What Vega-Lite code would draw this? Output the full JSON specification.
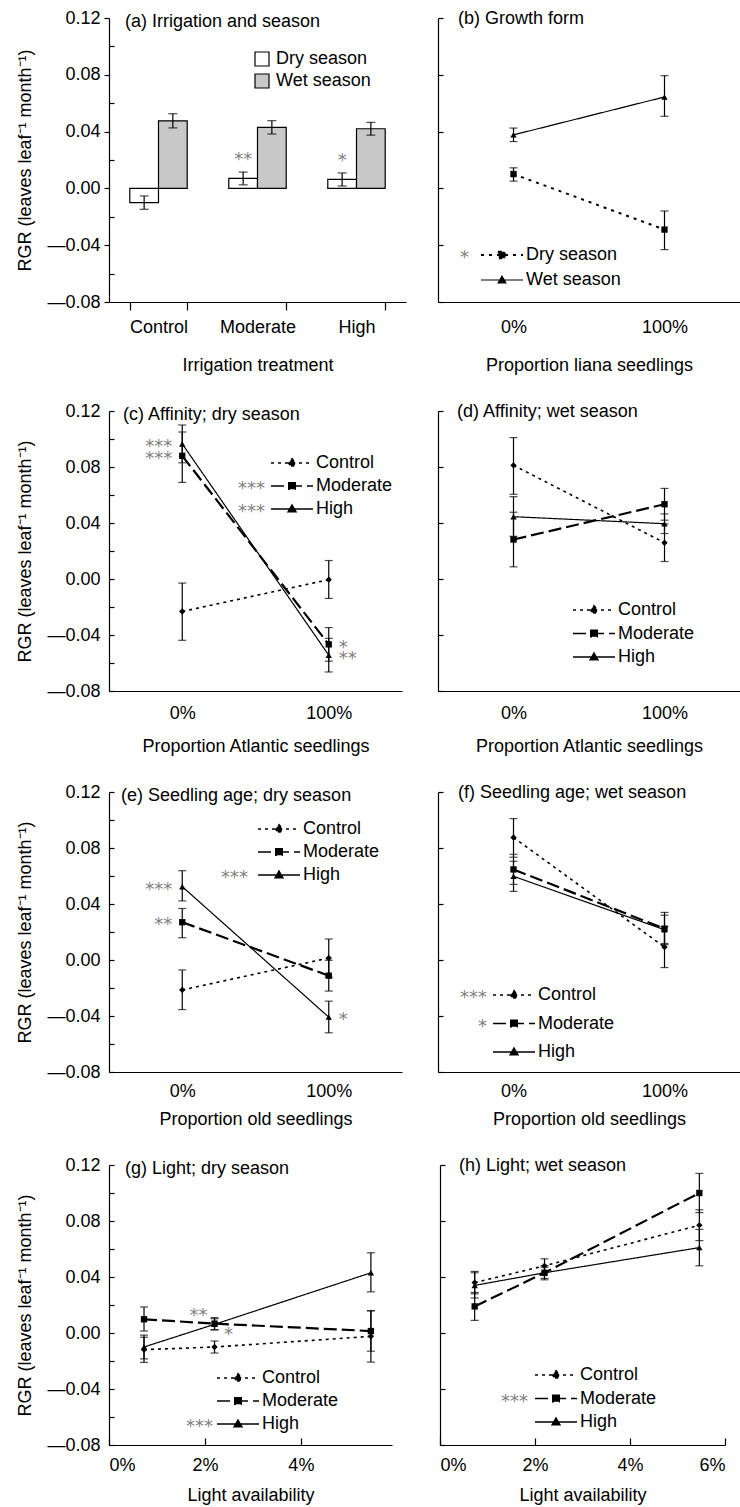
{
"$schema": "https://vega.github.io/schema/vega-lite/v6.json",
"padding": {"left": 16, "top": 9, "right": 0, "bottom": 4},
"config": {
 "font": "Liberation Sans",
 "view": {"stroke": null},
 "axis": {"labelFont": "Liberation Sans", "labelFontSize": 18, "labelColor": "black", "titleFont": "Liberation Sans", "titleFontSize": 18, "titleFontWeight": "normal", "titleColor": "black", "domainColor": "black", "domainWidth": 1.2, "tickColor": "black", "tickWidth": 1.2, "grid": false},
 "legend": {"labelFont": "Liberation Sans", "labelFontSize": 18, "labelColor": "black", "padding": 0, "orient": "none"},
 "title": {"font": "Liberation Sans", "fontSize": 18, "fontWeight": "normal", "color": "black", "anchor": "start", "frame": "group", "baseline": "middle"},
 "line": {"strokeCap": "butt"}
},
"datasets": {
 "a": [
  {"treatment": "Control", "season": "Dry season", "rgr": -0.0100, "lo": -0.0147, "hi": -0.0053},
  {"treatment": "Control", "season": "Wet season", "rgr": 0.0476, "lo": 0.0426, "hi": 0.0526},
  {"treatment": "Moderate", "season": "Dry season", "rgr": 0.0070, "lo": 0.0025, "hi": 0.0115, "sig": "**"},
  {"treatment": "Moderate", "season": "Wet season", "rgr": 0.0430, "lo": 0.0383, "hi": 0.0477},
  {"treatment": "High", "season": "Dry season", "rgr": 0.0063, "lo": 0.0017, "hi": 0.0109, "sig": "*"},
  {"treatment": "High", "season": "Wet season", "rgr": 0.0420, "lo": 0.0375, "hi": 0.0465}
 ],
 "b": [
  {"series": "Dry season", "x": "0%", "rgr": 0.0101, "lo": 0.0051, "hi": 0.0145},
  {"series": "Dry season", "x": "100%", "rgr": -0.0290, "lo": -0.0431, "hi": -0.0159},
  {"series": "Wet season", "x": "0%", "rgr": 0.0377, "lo": 0.0330, "hi": 0.0425},
  {"series": "Wet season", "x": "100%", "rgr": 0.0644, "lo": 0.0508, "hi": 0.0794}
 ],
 "c": [
  {"series": "Control", "x": "0%", "rgr": -0.0232, "lo": -0.0438, "hi": -0.0029},
  {"series": "Control", "x": "100%", "rgr": -0.0005, "lo": -0.0139, "hi": 0.0132},
  {"series": "Moderate", "x": "0%", "rgr": 0.0880, "lo": 0.0690, "hi": 0.1050, "sig": "***"},
  {"series": "Moderate", "x": "100%", "rgr": -0.0467, "lo": -0.0587, "hi": -0.0347, "sig": "*"},
  {"series": "High", "x": "0%", "rgr": 0.0965, "lo": 0.0830, "hi": 0.1100, "sig": "***"},
  {"series": "High", "x": "100%", "rgr": -0.0544, "lo": -0.0664, "hi": -0.0424, "sig": "**"}
 ],
 "d": [
  {"series": "Control", "x": "0%", "rgr": 0.0812, "lo": 0.0605, "hi": 0.1010},
  {"series": "Control", "x": "100%", "rgr": 0.0259, "lo": 0.0125, "hi": 0.0393},
  {"series": "Moderate", "x": "0%", "rgr": 0.0282, "lo": 0.0087, "hi": 0.0477},
  {"series": "Moderate", "x": "100%", "rgr": 0.0534, "lo": 0.0420, "hi": 0.0647},
  {"series": "High", "x": "0%", "rgr": 0.0445, "lo": 0.0305, "hi": 0.0588},
  {"series": "High", "x": "100%", "rgr": 0.0395, "lo": 0.0325, "hi": 0.0465}
 ],
 "e": [
  {"series": "Control", "x": "0%", "rgr": -0.0214, "lo": -0.0354, "hi": -0.0071},
  {"series": "Control", "x": "100%", "rgr": 0.0014, "lo": -0.0123, "hi": 0.0150},
  {"series": "Moderate", "x": "0%", "rgr": 0.0270, "lo": 0.0159, "hi": 0.0368, "sig": "**"},
  {"series": "Moderate", "x": "100%", "rgr": -0.0112, "lo": -0.0222, "hi": -0.0002},
  {"series": "High", "x": "0%", "rgr": 0.0524, "lo": 0.0422, "hi": 0.0638, "sig": "***"},
  {"series": "High", "x": "100%", "rgr": -0.0408, "lo": -0.0520, "hi": -0.0294, "sig": "*"}
 ],
 "f": [
  {"series": "Control", "x": "0%", "rgr": 0.0875, "lo": 0.0734, "hi": 0.1010},
  {"series": "Control", "x": "100%", "rgr": 0.0092, "lo": -0.0054, "hi": 0.0238},
  {"series": "Moderate", "x": "0%", "rgr": 0.0647, "lo": 0.0540, "hi": 0.0755},
  {"series": "Moderate", "x": "100%", "rgr": 0.0224, "lo": 0.0118, "hi": 0.0340},
  {"series": "High", "x": "0%", "rgr": 0.0598, "lo": 0.0490, "hi": 0.0705},
  {"series": "High", "x": "100%", "rgr": 0.0216, "lo": 0.0110, "hi": 0.0320}
 ],
 "g": [
  {"series": "Control", "light": 0.73, "rgr": -0.0119, "lo": -0.0210, "hi": -0.0030},
  {"series": "Control", "light": 2.2, "rgr": -0.0100, "lo": -0.0143, "hi": -0.0057},
  {"series": "Control", "light": 5.46, "rgr": -0.0024, "lo": -0.0208, "hi": 0.0160},
  {"series": "Moderate", "light": 0.73, "rgr": 0.0098, "lo": 0.0014, "hi": 0.0186},
  {"series": "Moderate", "light": 2.2, "rgr": 0.0067, "lo": 0.0024, "hi": 0.0110, "sig": "**"},
  {"series": "Moderate", "light": 5.46, "rgr": 0.0014, "lo": -0.0130, "hi": 0.0158},
  {"series": "High", "light": 0.73, "rgr": -0.0100, "lo": -0.0185, "hi": -0.0015},
  {"series": "High", "light": 2.2, "rgr": 0.0062, "lo": 0.0022, "hi": 0.0102, "sig": "*"},
  {"series": "High", "light": 5.46, "rgr": 0.0430, "lo": 0.0294, "hi": 0.0573}
 ],
 "h": [
  {"series": "Control", "light": 0.73, "rgr": 0.0360, "lo": 0.0280, "hi": 0.0440},
  {"series": "Control", "light": 2.2, "rgr": 0.0480, "lo": 0.0430, "hi": 0.0530},
  {"series": "Control", "light": 5.46, "rgr": 0.0770, "lo": 0.0660, "hi": 0.0880},
  {"series": "Moderate", "light": 0.73, "rgr": 0.0190, "lo": 0.0090, "hi": 0.0290},
  {"series": "Moderate", "light": 2.2, "rgr": 0.0430, "lo": 0.0380, "hi": 0.0480},
  {"series": "Moderate", "light": 5.46, "rgr": 0.1000, "lo": 0.0860, "hi": 0.1140},
  {"series": "High", "light": 0.73, "rgr": 0.0340, "lo": 0.0250, "hi": 0.0430},
  {"series": "High", "light": 2.2, "rgr": 0.0430, "lo": 0.0390, "hi": 0.0470},
  {"series": "High", "light": 5.46, "rgr": 0.0610, "lo": 0.0480, "hi": 0.0740}
 ]
},
"spacing": 28,
"resolve": {"scale": {"strokeDash": "independent", "strokeWidth": "independent", "shape": "independent", "opacity": "independent", "fill": "independent"}},
"vconcat": [
 {"spacing": 32, "bounds": "flush",
  "resolve": {"scale": {"strokeDash": "independent", "strokeWidth": "independent", "shape": "independent", "opacity": "independent", "fill": "independent"}},
  "hconcat": [
  {
   "width": 297, "height": 284, "data": {"name": "a"},
   "title": {"text": "(a) Irrigation and season", "dx": 16, "offset": -22},
   "resolve": {"axis": {"y": "independent"}},
   "layer": [
    {"mark": {"type": "bar", "stroke": "black", "strokeWidth": 1.2},
     "encoding": {
      "x": {"field": "treatment", "type": "nominal", "sort": ["Control", "Moderate", "High"], "scale": {"paddingInner": 0.42, "paddingOuter": 0.21}, "axis": {"title": "Irrigation treatment", "labelAngle": 0, "tickBand": "extent", "tickSize": 8, "labelPadding": 8, "titlePadding": 20}},
      "xOffset": {"field": "season", "type": "nominal", "scale": {"paddingInner": 0}},
      "y": {"field": "rgr", "type": "quantitative", "scale": {"domain": [-0.08, 0.12], "nice": false, "zero": false}, "axis": {"orient": "left", "values": [-0.08, -0.04, 0, 0.04, 0.08, 0.12], "labelExpr": "datum.value < -0.0001 ? '—' + format(-datum.value, '.2f') : format(datum.value, '.2f')", "tickSize": 5, "labelPadding": 4, "title": "RGR (leaves leaf⁻¹ month⁻¹)", "titlePadding": 12}},
      "fill": {"field": "season", "type": "nominal", "scale": {"range": ["white", "#c8c8c8"]}, "legend": {"title": null, "orient": "none", "legendX": 144, "legendY": 32, "symbolType": "square", "symbolSize": 196, "symbolStrokeColor": "black", "symbolStrokeWidth": 1.2, "labelOffset": 5, "rowPadding": 2}}
     }},
    {"mark": {"type": "rule", "color": "black", "strokeWidth": 1.2},
     "encoding": {
      "x": {"field": "treatment", "type": "nominal", "sort": ["Control", "Moderate", "High"]},
      "xOffset": {"field": "season", "type": "nominal"},
      "y": {"field": "lo", "type": "quantitative", "axis": {"orient": "right", "offset": -297, "values": [-0.06, -0.02, 0.02, 0.06, 0.1], "tickSize": 5, "labels": false, "domain": false, "title": null}},
      "y2": {"field": "hi"}
     }},
    {"mark": {"type": "tick", "orient": "horizontal", "color": "black", "size": 9, "thickness": 1.2},
     "encoding": {
      "x": {"field": "treatment", "type": "nominal", "sort": ["Control", "Moderate", "High"]},
      "xOffset": {"field": "season", "type": "nominal"},
      "y": {"field": "lo", "type": "quantitative", "axis": null}
     }},
    {"mark": {"type": "tick", "orient": "horizontal", "color": "black", "size": 9, "thickness": 1.2},
     "encoding": {
      "x": {"field": "treatment", "type": "nominal", "sort": ["Control", "Moderate", "High"]},
      "xOffset": {"field": "season", "type": "nominal"},
      "y": {"field": "hi", "type": "quantitative", "axis": null}
     }},
    {"transform": [{"filter": "datum.sig"}],
     "mark": {"type": "text", "baseline": "middle", "dy": -12, "font": "DejaVu Sans", "fontSize": 18, "color": "#808080"},
     "encoding": {
      "x": {"field": "treatment", "type": "nominal", "sort": ["Control", "Moderate", "High"]},
      "xOffset": {"field": "season", "type": "nominal"},
      "y": {"field": "hi", "type": "quantitative", "axis": null},
      "text": {"field": "sig"}
     }}
   ]
  },
  {
   "width": 302, "height": 284, "data": {"name": "b"},
   "title": {"text": "(b) Growth form", "dx": 20, "offset": -11},
   "layer": [
    {"mark": {"type": "line", "color": "black"},
     "encoding": {
      "x": {"field": "x", "type": "nominal", "scale": {"type": "point", "padding": 0.5}, "axis": {"title": "Proportion liana seedlings", "labelAngle": 0, "ticks": false, "tickSize": 0, "labelPadding": 16, "titlePadding": 20}},
      "y": {"field": "rgr", "type": "quantitative", "scale": {"domain": [-0.08, 0.12], "nice": false, "zero": false}, "axis": {"orient": "right", "offset": -302, "values": [-0.08, -0.06, -0.04, -0.02, 0, 0.02, 0.04, 0.06, 0.08, 0.1, 0.12], "tickSize": 5, "labels": false, "domain": true, "title": null}},
      "strokeDash": {"field": "series", "type": "nominal", "scale": {"range": [[3, 5], [1, 0]]}, "legend": {"title": null, "orient": "none", "legendX": 53, "legendY": 226, "symbolSize": 400, "symbolStrokeWidth": 1.6, "labelOffset": 13, "rowPadding": 5, "symbolType": {"expr": "datum.value === 'Dry season' ? 'M-2.1,0H2.1M-0.32,-0.32H0.32V0.32H-0.32Z' : 'M-2.1,0H2.1M0,-0.38L0.38,0.28L-0.38,0.28Z'"}, "encoding": {"symbols": {"fill": {"value": "black"}, "stroke": {"value": "black"}}}}},
      "strokeWidth": {"field": "series", "type": "nominal", "scale": {"type": "ordinal", "range": [2, 1.2]}, "legend": null}
     }},
    {"mark": {"type": "rule", "color": "black", "strokeWidth": 1.2},
     "encoding": {
      "x": {"field": "x", "type": "nominal"},
      "y": {"field": "lo", "type": "quantitative"},
      "y2": {"field": "hi"},
      "opacity": {"field": "series", "type": "nominal", "scale": {"domain": ["Dry season", "Wet season"], "range": [1, 1]}, "legend": {"title": null, "orient": "none", "legendX": 9, "legendY": 229, "symbolSize": 400, "symbolType": "M0,0", "symbolOpacity": 0, "labelOffset": 0, "labelAlign": "right", "rowPadding": 5, "labelFont": "DejaVu Sans", "labelColor": "#808080", "labelExpr": "datum.label == 'Dry season' ? '*' : ' '"}}
     }},
    {"mark": {"type": "tick", "orient": "horizontal", "color": "black", "size": 8, "thickness": 1.2},
     "encoding": {"x": {"field": "x", "type": "nominal"}, "y": {"field": "lo", "type": "quantitative"}}},
    {"mark": {"type": "tick", "orient": "horizontal", "color": "black", "size": 8, "thickness": 1.2},
     "encoding": {"x": {"field": "x", "type": "nominal"}, "y": {"field": "hi", "type": "quantitative"}}},
    {"mark": {"type": "point", "filled": true, "color": "black", "opacity": 1, "size": 40},
     "encoding": {"x": {"field": "x", "type": "nominal"}, "y": {"field": "rgr", "type": "quantitative"},
      "shape": {"field": "series", "type": "nominal", "scale": {"range": ["square", "triangle-up"]}, "legend": null}}}
   ]
  }
 ]},
 {"spacing": 36, "bounds": "flush",
  "resolve": {"scale": {"strokeDash": "independent", "strokeWidth": "independent", "shape": "independent", "opacity": "independent", "fill": "independent"}},
  "hconcat": [
   {
    "width": 293, "height": 280, "data": {"name": "c"},
    "title": {"text": "(c) Affinity; dry season", "dx": 14, "offset": -22},
    "resolve": {"axis": {"y": "independent"}},
    "layer": [
     {"mark": {"type": "line", "color": "black"},
      "encoding": {
       "x": {"field": "x", "type": "nominal", "scale": {"type": "point", "padding": 0.5}, "axis": {"title": "Proportion Atlantic seedlings", "labelAngle": 0, "ticks": false, "tickSize": 0, "labelPadding": 13, "titlePadding": 15}},
       "y": {"field": "rgr", "type": "quantitative", "scale": {"domain": [-0.08, 0.12], "nice": false, "zero": false}, "axis": {"orient": "left", "values": [-0.08, -0.04, 0, 0.04, 0.08, 0.12], "labelExpr": "datum.value < -0.0001 ? '—' + format(-datum.value, '.2f') : format(datum.value, '.2f')", "ticks": false, "tickSize": 0, "labelPadding": 9, "title": "RGR (leaves leaf⁻¹ month⁻¹)", "titlePadding": 12}},
       "strokeDash": {"field": "series", "type": "nominal", "sort": ["Control", "Moderate", "High"], "scale": {"range": [[3, 4], [13, 5], [1, 0]]}, "legend": {"title": null, "orient": "none", "legendX": 172, "legendY": 41, "symbolSize": 400, "symbolStrokeWidth": 1.6, "labelOffset": 13, "rowPadding": 3, "symbolType": {"expr": "datum.value === 'Control' ? 'M-2.1,0H2.1M0,-0.42L0.36,0L0,0.42L-0.36,0Z' : datum.value === 'Moderate' ? 'M-2.1,0H2.1M-0.32,-0.32H0.32V0.32H-0.32Z' : 'M-2.1,0H2.1M0,-0.38L0.38,0.28L-0.38,0.28Z'"}, "encoding": {"symbols": {"fill": {"value": "black"}, "stroke": {"value": "black"}}}}},
       "strokeWidth": {"field": "series", "type": "nominal", "sort": ["Control", "Moderate", "High"], "scale": {"type": "ordinal", "range": [1.6, 2.2, 1.2]}, "legend": null}
      }},
     {"mark": {"type": "rule", "color": "black", "strokeWidth": 1.2},
      "encoding": {
       "x": {"field": "x", "type": "nominal"},
       "y": {"field": "lo", "type": "quantitative", "axis": {"orient": "right", "offset": -293, "values": [-0.08, -0.06, -0.04, -0.02, 0, 0.02, 0.04, 0.06, 0.08, 0.1, 0.12], "tickSize": 5, "labels": false, "domain": false, "title": null}},
       "y2": {"field": "hi"},
       "opacity": {"field": "series", "type": "nominal", "scale": {"domain": ["Control", "Moderate", "High"], "range": [1, 1, 1]}, "legend": {"title": null, "orient": "none", "legendX": 134, "legendY": 44, "symbolSize": 400, "symbolType": "M0,0", "symbolOpacity": 0, "labelOffset": 0, "labelAlign": "right", "rowPadding": 3, "labelFont": "DejaVu Sans", "labelColor": "#808080", "labelExpr": "datum.label == 'Control' ? ' ' : '***'"}}
      }},
     {"mark": {"type": "tick", "orient": "horizontal", "color": "black", "size": 8, "thickness": 1.2},
      "encoding": {"x": {"field": "x", "type": "nominal"}, "y": {"field": "lo", "type": "quantitative", "axis": null}}},
     {"mark": {"type": "tick", "orient": "horizontal", "color": "black", "size": 8, "thickness": 1.2},
      "encoding": {"x": {"field": "x", "type": "nominal"}, "y": {"field": "hi", "type": "quantitative", "axis": null}}},
     {"mark": {"type": "point", "filled": true, "color": "black", "opacity": 1, "size": 40},
      "encoding": {"x": {"field": "x", "type": "nominal"}, "y": {"field": "rgr", "type": "quantitative", "axis": null},
       "shape": {"field": "series", "type": "nominal", "sort": ["Control", "Moderate", "High"], "scale": {"range": ["diamond", "square", "triangle-up"]}, "legend": null}}},
     {"transform": [{"filter": "datum.sig && datum.x == '0%'"}],
      "mark": {"type": "text", "align": "right", "dx": -10, "dy": 3, "baseline": "middle", "font": "DejaVu Sans", "fontSize": 18, "color": "#808080"},
      "encoding": {"x": {"field": "x", "type": "nominal"}, "y": {"field": "rgr", "type": "quantitative", "axis": null}, "text": {"field": "sig"}}},
     {"transform": [{"filter": "datum.sig && datum.x == '100%'"}],
      "mark": {"type": "text", "align": "left", "dx": 10, "dy": 4, "baseline": "middle", "font": "DejaVu Sans", "fontSize": 18, "color": "#808080"},
      "encoding": {"x": {"field": "x", "type": "nominal"}, "y": {"field": "rgr", "type": "quantitative", "axis": null}, "text": {"field": "sig"}}}
    ]
   },
   {
    "width": 302, "height": 280, "data": {"name": "d"},
    "title": {"text": "(d) Affinity; wet season", "dx": 19, "offset": -11},
    "layer": [
     {"mark": {"type": "line", "color": "black"},
      "encoding": {
       "x": {"field": "x", "type": "nominal", "scale": {"type": "point", "padding": 0.5}, "axis": {"title": "Proportion Atlantic seedlings", "labelAngle": 0, "ticks": false, "tickSize": 0, "labelPadding": 13, "titlePadding": 15}},
       "y": {"field": "rgr", "type": "quantitative", "scale": {"domain": [-0.08, 0.12], "nice": false, "zero": false}, "axis": {"orient": "right", "offset": -302, "values": [-0.08, -0.06, -0.04, -0.02, 0, 0.02, 0.04, 0.06, 0.08, 0.1, 0.12], "tickSize": 5, "labels": false, "domain": true, "title": null}},
       "strokeDash": {"field": "series", "type": "nominal", "sort": ["Control", "Moderate", "High"], "scale": {"range": [[3, 4], [13, 5], [1, 0]]}, "legend": {"title": null, "orient": "none", "legendX": 145, "legendY": 188, "symbolSize": 400, "symbolStrokeWidth": 1.6, "labelOffset": 13, "rowPadding": 3.5, "symbolType": {"expr": "datum.value === 'Control' ? 'M-2.1,0H2.1M0,-0.42L0.36,0L0,0.42L-0.36,0Z' : datum.value === 'Moderate' ? 'M-2.1,0H2.1M-0.32,-0.32H0.32V0.32H-0.32Z' : 'M-2.1,0H2.1M0,-0.38L0.38,0.28L-0.38,0.28Z'"}, "encoding": {"symbols": {"fill": {"value": "black"}, "stroke": {"value": "black"}}}}},
       "strokeWidth": {"field": "series", "type": "nominal", "sort": ["Control", "Moderate", "High"], "scale": {"type": "ordinal", "range": [1.6, 2.2, 1.2]}, "legend": null}
      }},
     {"mark": {"type": "rule", "color": "black", "strokeWidth": 1.2},
      "encoding": {"x": {"field": "x", "type": "nominal"}, "y": {"field": "lo", "type": "quantitative"}, "y2": {"field": "hi"}}},
     {"mark": {"type": "tick", "orient": "horizontal", "color": "black", "size": 8, "thickness": 1.2},
      "encoding": {"x": {"field": "x", "type": "nominal"}, "y": {"field": "lo", "type": "quantitative"}}},
     {"mark": {"type": "tick", "orient": "horizontal", "color": "black", "size": 8, "thickness": 1.2},
      "encoding": {"x": {"field": "x", "type": "nominal"}, "y": {"field": "hi", "type": "quantitative"}}},
     {"mark": {"type": "point", "filled": true, "color": "black", "opacity": 1, "size": 40},
      "encoding": {"x": {"field": "x", "type": "nominal"}, "y": {"field": "rgr", "type": "quantitative"},
       "shape": {"field": "series", "type": "nominal", "sort": ["Control", "Moderate", "High"], "scale": {"range": ["diamond", "square", "triangle-up"]}, "legend": null}}}
    ]
   }
  ]},
  {"spacing": 36, "bounds": "flush",
   "resolve": {"scale": {"strokeDash": "independent", "strokeWidth": "independent", "shape": "independent", "opacity": "independent", "fill": "independent"}},
   "hconcat": [
   {
    "width": 293, "height": 280, "data": {"name": "e"},
    "title": {"text": "(e) Seedling age; dry season", "dx": 12, "offset": -22},
    "resolve": {"axis": {"y": "independent"}},
    "layer": [
     {"mark": {"type": "line", "color": "black"},
      "encoding": {
       "x": {"field": "x", "type": "nominal", "scale": {"type": "point", "padding": 0.5}, "axis": {"title": "Proportion old seedlings", "labelAngle": 0, "ticks": false, "tickSize": 0, "labelPadding": 10, "titlePadding": 10}},
       "y": {"field": "rgr", "type": "quantitative", "scale": {"domain": [-0.08, 0.12], "nice": false, "zero": false}, "axis": {"orient": "left", "values": [-0.08, -0.04, 0, 0.04, 0.08, 0.12], "labelExpr": "datum.value < -0.0001 ? '—' + format(-datum.value, '.2f') : format(datum.value, '.2f')", "ticks": false, "tickSize": 0, "labelPadding": 9, "title": "RGR (leaves leaf⁻¹ month⁻¹)", "titlePadding": 12}},
       "strokeDash": {"field": "series", "type": "nominal", "sort": ["Control", "Moderate", "High"], "scale": {"range": [[3, 4], [13, 5], [1, 0]]}, "legend": {"title": null, "orient": "none", "legendX": 159, "legendY": 26, "symbolSize": 400, "symbolStrokeWidth": 1.6, "labelOffset": 13, "rowPadding": 3, "symbolType": {"expr": "datum.value === 'Control' ? 'M-2.1,0H2.1M0,-0.42L0.36,0L0,0.42L-0.36,0Z' : datum.value === 'Moderate' ? 'M-2.1,0H2.1M-0.32,-0.32H0.32V0.32H-0.32Z' : 'M-2.1,0H2.1M0,-0.38L0.38,0.28L-0.38,0.28Z'"}, "encoding": {"symbols": {"fill": {"value": "black"}, "stroke": {"value": "black"}}}}},
       "strokeWidth": {"field": "series", "type": "nominal", "sort": ["Control", "Moderate", "High"], "scale": {"type": "ordinal", "range": [1.6, 2.2, 1.2]}, "legend": null}
      }},
     {"mark": {"type": "rule", "color": "black", "strokeWidth": 1.2},
      "encoding": {
       "x": {"field": "x", "type": "nominal"},
       "y": {"field": "lo", "type": "quantitative", "axis": {"orient": "right", "offset": -293, "values": [-0.08, -0.06, -0.04, -0.02, 0, 0.02, 0.04, 0.06, 0.08, 0.1, 0.12], "tickSize": 5, "labels": false, "domain": false, "title": null}},
       "y2": {"field": "hi"},
       "opacity": {"field": "series", "type": "nominal", "scale": {"domain": ["Control", "Moderate", "High"], "range": [1, 1, 1]}, "legend": {"title": null, "orient": "none", "legendX": 117, "legendY": 29, "symbolSize": 400, "symbolType": "M0,0", "symbolOpacity": 0, "labelOffset": 0, "labelAlign": "right", "rowPadding": 3, "labelFont": "DejaVu Sans", "labelColor": "#808080", "labelExpr": "datum.label == 'High' ? '***' : ' '"}}
      }},
     {"mark": {"type": "tick", "orient": "horizontal", "color": "black", "size": 8, "thickness": 1.2},
      "encoding": {"x": {"field": "x", "type": "nominal"}, "y": {"field": "lo", "type": "quantitative", "axis": null}}},
     {"mark": {"type": "tick", "orient": "horizontal", "color": "black", "size": 8, "thickness": 1.2},
      "encoding": {"x": {"field": "x", "type": "nominal"}, "y": {"field": "hi", "type": "quantitative", "axis": null}}},
     {"mark": {"type": "point", "filled": true, "color": "black", "opacity": 1, "size": 40},
      "encoding": {"x": {"field": "x", "type": "nominal"}, "y": {"field": "rgr", "type": "quantitative", "axis": null},
       "shape": {"field": "series", "type": "nominal", "sort": ["Control", "Moderate", "High"], "scale": {"range": ["diamond", "square", "triangle-up"]}, "legend": null}}},
     {"transform": [{"filter": "datum.sig && datum.x == '0%'"}],
      "mark": {"type": "text", "align": "right", "dx": -10, "dy": 3, "baseline": "middle", "font": "DejaVu Sans", "fontSize": 18, "color": "#808080"},
      "encoding": {"x": {"field": "x", "type": "nominal"}, "y": {"field": "rgr", "type": "quantitative", "axis": null}, "text": {"field": "sig"}}},
     {"transform": [{"filter": "datum.sig && datum.x == '100%'"}],
      "mark": {"type": "text", "align": "left", "dx": 10, "dy": 3, "baseline": "middle", "font": "DejaVu Sans", "fontSize": 18, "color": "#808080"},
      "encoding": {"x": {"field": "x", "type": "nominal"}, "y": {"field": "rgr", "type": "quantitative", "axis": null}, "text": {"field": "sig"}}}
    ]
   },
   {
    "width": 302, "height": 280, "data": {"name": "f"},
    "title": {"text": "(f) Seedling age; wet season", "dx": 20, "offset": -11},
    "layer": [
     {"mark": {"type": "line", "color": "black"},
      "encoding": {
       "x": {"field": "x", "type": "nominal", "scale": {"type": "point", "padding": 0.5}, "axis": {"title": "Proportion old seedlings", "labelAngle": 0, "ticks": false, "tickSize": 0, "labelPadding": 10, "titlePadding": 10}},
       "y": {"field": "rgr", "type": "quantitative", "scale": {"domain": [-0.08, 0.12], "nice": false, "zero": false}, "axis": {"orient": "right", "offset": -302, "values": [-0.08, -0.06, -0.04, -0.02, 0, 0.02, 0.04, 0.06, 0.08, 0.1, 0.12], "tickSize": 5, "labels": false, "domain": true, "title": null}},
       "strokeDash": {"field": "series", "type": "nominal", "sort": ["Control", "Moderate", "High"], "scale": {"range": [[3, 4], [13, 5], [1, 0]]}, "legend": {"title": null, "orient": "none", "legendX": 65, "legendY": 192, "symbolSize": 400, "symbolStrokeWidth": 1.6, "labelOffset": 13, "rowPadding": 8.5, "symbolType": {"expr": "datum.value === 'Control' ? 'M-2.1,0H2.1M0,-0.42L0.36,0L0,0.42L-0.36,0Z' : datum.value === 'Moderate' ? 'M-2.1,0H2.1M-0.32,-0.32H0.32V0.32H-0.32Z' : 'M-2.1,0H2.1M0,-0.38L0.38,0.28L-0.38,0.28Z'"}, "encoding": {"symbols": {"fill": {"value": "black"}, "stroke": {"value": "black"}}}}},
       "strokeWidth": {"field": "series", "type": "nominal", "sort": ["Control", "Moderate", "High"], "scale": {"type": "ordinal", "range": [1.6, 2.2, 1.2]}, "legend": null}
      }},
     {"mark": {"type": "rule", "color": "black", "strokeWidth": 1.2},
      "encoding": {
       "x": {"field": "x", "type": "nominal"}, "y": {"field": "lo", "type": "quantitative"}, "y2": {"field": "hi"},
       "opacity": {"field": "series", "type": "nominal", "scale": {"domain": ["Control", "Moderate", "High"], "range": [1, 1, 1]}, "legend": {"title": null, "orient": "none", "legendX": 27, "legendY": 195, "symbolSize": 400, "symbolType": "M0,0", "symbolOpacity": 0, "labelOffset": 0, "labelAlign": "right", "rowPadding": 8.5, "labelFont": "DejaVu Sans", "labelColor": "#808080", "labelExpr": "datum.label == 'Control' ? '***' : datum.label == 'Moderate' ? '*' : ' '"}}
      }},
     {"mark": {"type": "tick", "orient": "horizontal", "color": "black", "size": 8, "thickness": 1.2},
      "encoding": {"x": {"field": "x", "type": "nominal"}, "y": {"field": "lo", "type": "quantitative"}}},
     {"mark": {"type": "tick", "orient": "horizontal", "color": "black", "size": 8, "thickness": 1.2},
      "encoding": {"x": {"field": "x", "type": "nominal"}, "y": {"field": "hi", "type": "quantitative"}}},
     {"mark": {"type": "point", "filled": true, "color": "black", "opacity": 1, "size": 40},
      "encoding": {"x": {"field": "x", "type": "nominal"}, "y": {"field": "rgr", "type": "quantitative"},
       "shape": {"field": "series", "type": "nominal", "sort": ["Control", "Moderate", "High"], "scale": {"range": ["diamond", "square", "triangle-up"]}, "legend": null}}}
    ]
   }
  ]},
  {"spacing": 48, "bounds": "flush",
   "resolve": {"scale": {"strokeDash": "independent", "strokeWidth": "independent", "shape": "independent", "opacity": "independent", "fill": "independent"}},
   "hconcat": [
   {
    "width": 283, "height": 280, "data": {"name": "g"},
    "title": {"text": "(g) Light; dry season", "dx": 16, "offset": -22},
    "resolve": {"axis": {"x": "independent", "y": "independent"}},
    "layer": [
     {"mark": {"type": "line", "color": "black"},
      "encoding": {
       "x": {"field": "light", "type": "quantitative", "scale": {"domain": [0, 5.9], "nice": false}, "axis": {"orient": "bottom", "values": [0, 2, 4], "labelExpr": "datum.value + '%'", "ticks": false, "tickSize": 0, "labelPadding": 11, "title": "Light availability", "titlePadding": 12}},
       "y": {"field": "rgr", "type": "quantitative", "scale": {"domain": [-0.08, 0.12], "nice": false, "zero": false}, "axis": {"orient": "left", "values": [-0.08, -0.04, 0, 0.04, 0.08, 0.12], "labelExpr": "datum.value < -0.0001 ? '—' + format(-datum.value, '.2f') : format(datum.value, '.2f')", "ticks": false, "tickSize": 0, "labelPadding": 9, "title": "RGR (leaves leaf⁻¹ month⁻¹)", "titlePadding": 12}},
       "strokeDash": {"field": "series", "type": "nominal", "sort": ["Control", "Moderate", "High"], "scale": {"range": [[3, 4], [13, 5], [1, 0]]}, "legend": {"title": null, "orient": "none", "legendX": 118, "legendY": 202, "symbolSize": 400, "symbolStrokeWidth": 1.6, "labelOffset": 13, "rowPadding": 3, "symbolType": {"expr": "datum.value === 'Control' ? 'M-2.1,0H2.1M0,-0.42L0.36,0L0,0.42L-0.36,0Z' : datum.value === 'Moderate' ? 'M-2.1,0H2.1M-0.32,-0.32H0.32V0.32H-0.32Z' : 'M-2.1,0H2.1M0,-0.38L0.38,0.28L-0.38,0.28Z'"}, "encoding": {"symbols": {"fill": {"value": "black"}, "stroke": {"value": "black"}}}}},
       "strokeWidth": {"field": "series", "type": "nominal", "sort": ["Control", "Moderate", "High"], "scale": {"type": "ordinal", "range": [1.6, 2.2, 1.2]}, "legend": null}
      }},
     {"mark": {"type": "rule", "color": "black", "strokeWidth": 1.2},
      "encoding": {
       "x": {"field": "light", "type": "quantitative", "axis": {"orient": "top", "offset": -280, "values": [0, 2, 4], "tickSize": 7, "labels": false, "domain": false, "title": null}},
       "y": {"field": "lo", "type": "quantitative", "axis": {"orient": "right", "offset": -283, "values": [-0.08, -0.06, -0.04, -0.02, 0, 0.02, 0.04, 0.06, 0.08, 0.1, 0.12], "tickSize": 5, "labels": false, "domain": false, "title": null}},
       "y2": {"field": "hi"},
       "opacity": {"field": "series", "type": "nominal", "scale": {"domain": ["Control", "Moderate", "High"], "range": [1, 1, 1]}, "legend": {"title": null, "orient": "none", "legendX": 82, "legendY": 205, "symbolSize": 400, "symbolType": "M0,0", "symbolOpacity": 0, "labelOffset": 0, "labelAlign": "right", "rowPadding": 3, "labelFont": "DejaVu Sans", "labelColor": "#808080", "labelExpr": "datum.label == 'High' ? '***' : ' '"}}
      }},
     {"mark": {"type": "tick", "orient": "horizontal", "color": "black", "size": 8, "thickness": 1.2},
      "encoding": {"x": {"field": "light", "type": "quantitative", "axis": null}, "y": {"field": "lo", "type": "quantitative", "axis": null}}},
     {"mark": {"type": "tick", "orient": "horizontal", "color": "black", "size": 8, "thickness": 1.2},
      "encoding": {"x": {"field": "light", "type": "quantitative", "axis": null}, "y": {"field": "hi", "type": "quantitative", "axis": null}}},
     {"mark": {"type": "point", "filled": true, "color": "black", "opacity": 1, "size": 40},
      "encoding": {"x": {"field": "light", "type": "quantitative", "axis": null}, "y": {"field": "rgr", "type": "quantitative", "axis": null},
       "shape": {"field": "series", "type": "nominal", "sort": ["Control", "Moderate", "High"], "scale": {"range": ["diamond", "square", "triangle-up"]}, "legend": null}}},
     {"transform": [{"filter": "datum.sig && datum.series == 'Moderate'"}],
      "mark": {"type": "text", "align": "center", "dx": -16, "dy": -8, "baseline": "middle", "font": "DejaVu Sans", "fontSize": 18, "color": "#808080"},
      "encoding": {"x": {"field": "light", "type": "quantitative", "axis": null}, "y": {"field": "rgr", "type": "quantitative", "axis": null}, "text": {"field": "sig"}}},
     {"transform": [{"filter": "datum.sig && datum.series == 'High'"}],
      "mark": {"type": "text", "align": "center", "dx": 14, "dy": 11, "baseline": "middle", "font": "DejaVu Sans", "fontSize": 18, "color": "#808080"},
      "encoding": {"x": {"field": "light", "type": "quantitative", "axis": null}, "y": {"field": "rgr", "type": "quantitative", "axis": null}, "text": {"field": "sig"}}}
    ]
   },
   {
    "width": 285, "height": 280, "data": {"name": "h"},
    "title": {"text": "(h) Light; wet season", "dx": 19, "offset": -11},
    "resolve": {"axis": {"x": "independent"}},
    "layer": [
     {"mark": {"type": "line", "color": "black"},
      "encoding": {
       "x": {"field": "light", "type": "quantitative", "scale": {"domain": [0, 6], "nice": false}, "axis": {"orient": "bottom", "values": [0, 2, 4, 6], "labelExpr": "datum.value + '%'", "ticks": false, "tickSize": 0, "labelPadding": 11, "title": "Light availability", "titlePadding": 12}},
       "y": {"field": "rgr", "type": "quantitative", "scale": {"domain": [-0.08, 0.12], "nice": false, "zero": false}, "axis": {"orient": "right", "offset": -285, "values": [-0.08, -0.06, -0.04, -0.02, 0, 0.02, 0.04, 0.06, 0.08, 0.1, 0.12], "tickSize": 5, "labels": false, "domain": true, "title": null}},
       "strokeDash": {"field": "series", "type": "nominal", "sort": ["Control", "Moderate", "High"], "scale": {"range": [[3, 4], [13, 5], [1, 0]]}, "legend": {"title": null, "orient": "none", "legendX": 105, "legendY": 199, "symbolSize": 400, "symbolStrokeWidth": 1.6, "labelOffset": 13, "rowPadding": 3.5, "symbolType": {"expr": "datum.value === 'Control' ? 'M-2.1,0H2.1M0,-0.42L0.36,0L0,0.42L-0.36,0Z' : datum.value === 'Moderate' ? 'M-2.1,0H2.1M-0.32,-0.32H0.32V0.32H-0.32Z' : 'M-2.1,0H2.1M0,-0.38L0.38,0.28L-0.38,0.28Z'"}, "encoding": {"symbols": {"fill": {"value": "black"}, "stroke": {"value": "black"}}}}},
       "strokeWidth": {"field": "series", "type": "nominal", "sort": ["Control", "Moderate", "High"], "scale": {"type": "ordinal", "range": [1.6, 2.2, 1.2]}, "legend": null}
      }},
     {"mark": {"type": "rule", "color": "black", "strokeWidth": 1.2},
      "encoding": {
       "x": {"field": "light", "type": "quantitative", "axis": {"orient": "top", "offset": -280, "values": [0, 2, 4, 6], "tickSize": 7, "labels": false, "domain": false, "title": null}},
       "y": {"field": "lo", "type": "quantitative"}, "y2": {"field": "hi"},
       "opacity": {"field": "series", "type": "nominal", "scale": {"domain": ["Control", "Moderate", "High"], "range": [1, 1, 1]}, "legend": {"title": null, "orient": "none", "legendX": 66, "legendY": 202, "symbolSize": 400, "symbolType": "M0,0", "symbolOpacity": 0, "labelOffset": 0, "labelAlign": "right", "rowPadding": 3.5, "labelFont": "DejaVu Sans", "labelColor": "#808080", "labelExpr": "datum.label == 'Moderate' ? '***' : ' '"}}
      }},
     {"mark": {"type": "tick", "orient": "horizontal", "color": "black", "size": 8, "thickness": 1.2},
      "encoding": {"x": {"field": "light", "type": "quantitative", "axis": null}, "y": {"field": "lo", "type": "quantitative"}}},
     {"mark": {"type": "tick", "orient": "horizontal", "color": "black", "size": 8, "thickness": 1.2},
      "encoding": {"x": {"field": "light", "type": "quantitative", "axis": null}, "y": {"field": "hi", "type": "quantitative"}}},
     {"mark": {"type": "point", "filled": true, "color": "black", "opacity": 1, "size": 40},
      "encoding": {"x": {"field": "light", "type": "quantitative", "axis": null}, "y": {"field": "rgr", "type": "quantitative"},
       "shape": {"field": "series", "type": "nominal", "sort": ["Control", "Moderate", "High"], "scale": {"range": ["diamond", "square", "triangle-up"]}, "legend": null}}}
    ]
   }
  ]}
]
}
